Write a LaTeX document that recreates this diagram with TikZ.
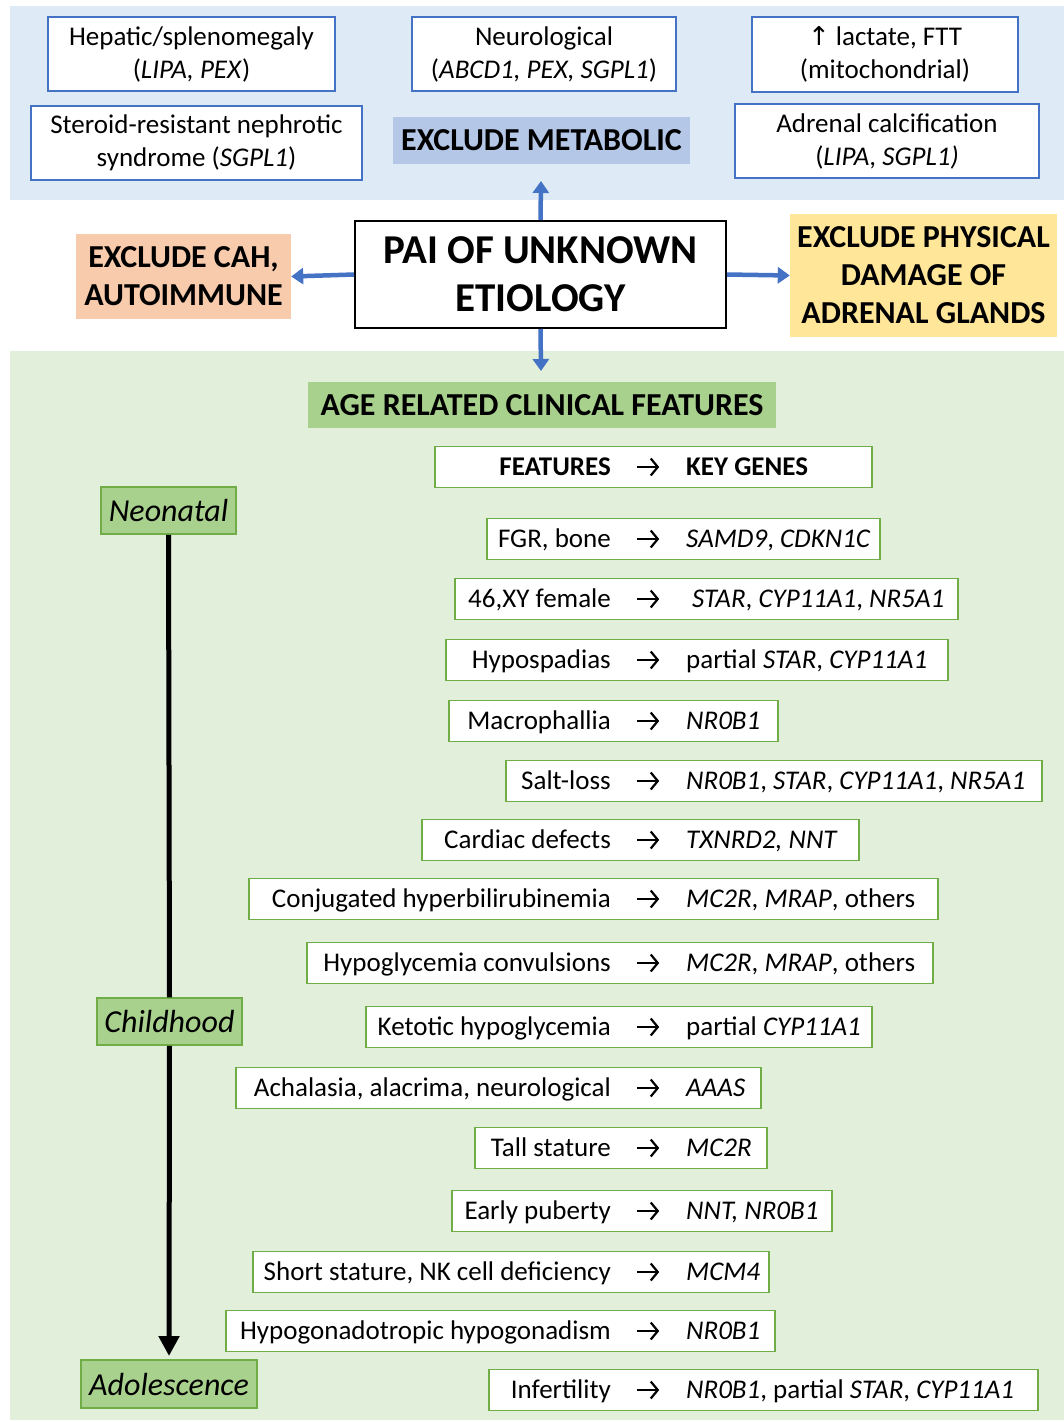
\documentclass[tikz,border=0pt]{standalone}
\usepackage{fontspec}
\setmainfont{Carlito}
\newfontfamily\symfont{DejaVu Sans}
\usetikzlibrary{arrows.meta}
\definecolor{blueband}{HTML}{DEEBF7}
\definecolor{greenband}{HTML}{E2EFDA}
\definecolor{metafill}{HTML}{B4C7E7}
\definecolor{cahfill}{HTML}{F8CBAD}
\definecolor{physfill}{HTML}{FFE699}
\definecolor{agefill}{HTML}{A9D18E}
\definecolor{accblue}{HTML}{4472C4}
\definecolor{accgreen}{HTML}{70AD47}
\tikzset{
  topbox/.style={draw=accblue, line width=1.8pt, fill=white, align=center, inner sep=0pt,
    font=\fontsize{27}{33}\selectfont},
  headbox/.style={inner sep=0pt, align=center, font=\bfseries\fontsize{32}{38}\selectfont},
  agebox/.style={draw=accgreen, line width=1.5pt, fill=agefill, inner sep=0pt,
    font=\itshape\fontsize{32}{38}\selectfont},
  fbox/.style={draw=accgreen, line width=1.8pt, fill=white, inner sep=0pt, minimum height=41},
  ftext/.style={inner sep=0pt, font=\fontsize{27}{32}\selectfont, text height=22pt, text depth=5pt},
  farrowbox/.style={inner sep=0pt, minimum width=22, minimum height=18},
  farrow/.style={draw=black, line width=2.2pt, -{Straight Barb[length=7pt,width=17pt]}},
  bluearrow/.style={draw=accblue, line width=4.5pt, -{Triangle[width=16pt,length=12pt]}},
  timeline/.style={draw=black, line width=5pt},
}
\newcommand{\featrow}[6]{%
  \node[fbox, minimum width={#4-#3}] (#1) at ({(#3+#4)/2},#2) {};
  \node[ftext, anchor=east] (#1l) at (611,#2) {#5};
  \node[farrowbox] (#1a) at (648,#2) {};
  \draw[farrow] (#1a.west) -- (#1a.east);
  \node[ftext, anchor=west] (#1r) at (686,#2) {#6};
}
\begin{document}
\begin{tikzpicture}[x=1pt,y=-1pt]
\useasboundingbox (0,0) rectangle (1064,1422);
\fill[white] (0,0) rectangle (1064,1422);
% bands
\fill[blueband] (10,6) rectangle (1064,200);
\fill[greenband] (10,351) rectangle (1064,1420);

% top boxes
\node[topbox, minimum width=287, minimum height=74] (hep) at (191.5,54) {Hepatic/splenomegaly\\(\textit{LIPA, PEX})};
\node[topbox, minimum width=331, minimum height=74] (ster) at (196.5,143) {Steroid-resistant nephrotic\\syndrome (\textit{SGPL1})};
\node[topbox, minimum width=264, minimum height=74] (neuro) at (544,54) {Neurological\\(\textit{ABCD1, PEX, SGPL1})};
\node[topbox, minimum width=266, minimum height=75] (lact) at (885,54.5) {{\symfont\fontsize{26}{33}\selectfont ↑} lactate, FTT\\(mitochondrial)};
\node[topbox, minimum width=304, minimum height=74] (adren) at (887,141) {Adrenal calcification\\(\textit{LIPA}, \textit{SGPL1)}};
\node[headbox, fill=metafill, minimum width=297, minimum height=47] (meta) at (541.5,140.5) {EXCLUDE METABOLIC};

% central
\node[draw=black, line width=2pt, fill=white, minimum width=371, minimum height=107, align=center,
  inner sep=0pt, font=\bfseries\fontsize{41}{48}\selectfont] (pai) at (540.5,274.5) {PAI OF UNKNOWN\\ETIOLOGY};
\node[headbox, fill=cahfill, minimum width=215, minimum height=85] (cah) at (183.5,276.5) {EXCLUDE CAH,\\AUTOIMMUNE};
\node[headbox, fill=physfill, minimum width=267, minimum height=123] (phys) at (923.5,275.5) {EXCLUDE PHYSICAL\\DAMAGE OF\\ADRENAL GLANDS};
\coordinate (uptip) at (541,181);
\coordinate (downtip) at (541,371);
\draw[bluearrow] (pai.north) -- (uptip);
\draw[bluearrow] (pai.south) -- (downtip);
\draw[bluearrow] (pai.west) -- (cah.east);
\draw[bluearrow] (pai.east) -- (phys.west);

\node[headbox, fill=agefill, minimum width=468, minimum height=46] (age) at (542,405) {AGE RELATED CLINICAL FEATURES};

% age boxes and timeline
\node[agebox, minimum width=135, minimum height=47] (neo) at (168.5,510.5) {Neonatal};
\node[agebox, minimum width=145, minimum height=47] (child) at (169.5,1021.5) {Childhood};
\node[agebox, minimum width=176, minimum height=48] (adol) at (169,1384) {Adolescence};
\coordinate (adoltip) at (169,1356);
\draw[timeline] (neo.south) -- (child.north);
\draw[timeline, -{Triangle[width=20pt,length=20pt]}] (child.south) -- (adoltip);

% feature rows
\node[fbox, minimum width=437] (hdr) at (653.5,467) {};
\node[ftext, anchor=east, font=\bfseries\fontsize{27}{32}\selectfont] (hdrl) at (611,467) {FEATURES};
\node[farrowbox] (hdra) at (648,467) {};
\draw[farrow] (hdra.west) -- (hdra.east);
\node[ftext, anchor=west, font=\bfseries\fontsize{27}{32}\selectfont] (hdrr) at (686,467) {KEY GENES};

\featrow{r1}{539}{487}{880}{FGR, bone}{\textit{SAMD9}, \textit{CDKN1C}}
\featrow{r2}{599}{455}{958}{46,XY female}{\hspace{6pt}\textit{STAR}, \textit{CYP11A1}, \textit{NR5A1}}
\featrow{r3}{660}{446}{948}{Hypospadias}{partial \textit{STAR}, \textit{CYP11A1}}
\featrow{r4}{721}{449}{778}{Macrophallia}{\textit{NR0B1}}
\featrow{r5}{781}{506}{1042}{Salt-loss}{\textit{NR0B1}, \textit{STAR}, \textit{CYP11A1}, \textit{NR5A1}}
\featrow{r6}{840}{422}{859}{Cardiac defects}{\textit{TXNRD2, NNT}}
\featrow{r7}{899}{249}{938}{Conjugated hyperbilirubinemia}{\textit{MC2R}, \textit{MRAP}, others}
\featrow{r8}{963}{307}{933}{Hypoglycemia convulsions}{\textit{MC2R}, \textit{MRAP}, others}
\featrow{r9}{1027}{366}{872}{Ketotic hypoglycemia}{partial \textit{CYP11A1}}
\featrow{r10}{1088}{236}{761}{Achalasia, alacrima, neurological}{\textit{AAAS}}
\featrow{r11}{1148}{475}{767}{Tall stature}{\textit{MC2R}}
\featrow{r12}{1211}{452}{832}{Early puberty}{\textit{NNT, NR0B1}}
\featrow{r13}{1272}{253}{769}{Short stature, NK cell deficiency}{\textit{MCM4}}
\featrow{r14}{1331}{226}{775}{Hypogonadotropic hypogonadism}{\textit{NR0B1}}
\featrow{r15}{1390}{489}{1038}{Infertility}{\textit{NR0B1}, partial \textit{STAR}, \textit{CYP11A1}}
\end{tikzpicture}
\end{document}
